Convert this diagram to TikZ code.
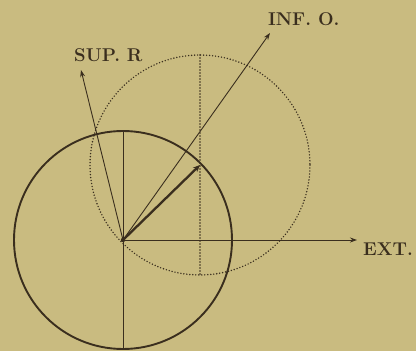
\documentclass[tikz,border=0pt]{standalone}
\usetikzlibrary{arrows.meta}
\definecolor{paper}{RGB}{201,187,128}
\definecolor{ink}{RGB}{58,46,30}
\tikzset{
  ink line/.style={draw=ink, line width=0.9pt},
  thin arrow/.style={ink line, -{Stealth[length=7pt,width=5pt]}},
  thick arrow/.style={draw=ink, line width=2.3pt, -{Stealth[length=7pt,width=6pt]}},
  dotline/.style={draw=ink, line width=1.6pt, line cap=round, dash pattern=on 0pt off 3pt},
  label/.style={text=ink, inner sep=0pt, anchor=base west, font=\fontsize{18.5}{22}\selectfont\bfseries}
}
\begin{document}
\begin{tikzpicture}[x=1pt,y=-1pt]
\fill[paper] (0,0) rectangle (416,351);
\useasboundingbox (0,0) rectangle (416,351);
\coordinate (O) at (123,240);
\coordinate (P) at (200,165);
\coordinate (ctop) at (123,131);
\coordinate (cbot) at (123,349);
\coordinate (dtop) at (200,55);
\coordinate (dbot) at (200,275);
\coordinate (supTip) at (81,70);
\coordinate (infTip) at (270,33);
\coordinate (extTip) at (357,240);
% dotted circle and its vertical diameter
\draw[dotline] (P) circle (110);
\draw[dotline] (dtop) -- (dbot);
% solid circle and vertical diameter
\draw[draw=ink, line width=1.9pt] (O) circle (109);
\draw[ink line] (ctop) -- (cbot);
% arrows
\draw[thin arrow] (O) -- (supTip);
\draw[thin arrow] (O) -- (infTip);
\draw[thin arrow] (O) -- (extTip);
\draw[thick arrow] (O) -- (P);
\fill[ink] (O) circle (2.2);
% labels
\node[label] (sup) at (74,61.5) {SUP. R};
\node[label] (inf) at (268,25) {INF. O.};
\node[label] (ext) at (363,255) {EXT.};
\end{tikzpicture}
\end{document}
